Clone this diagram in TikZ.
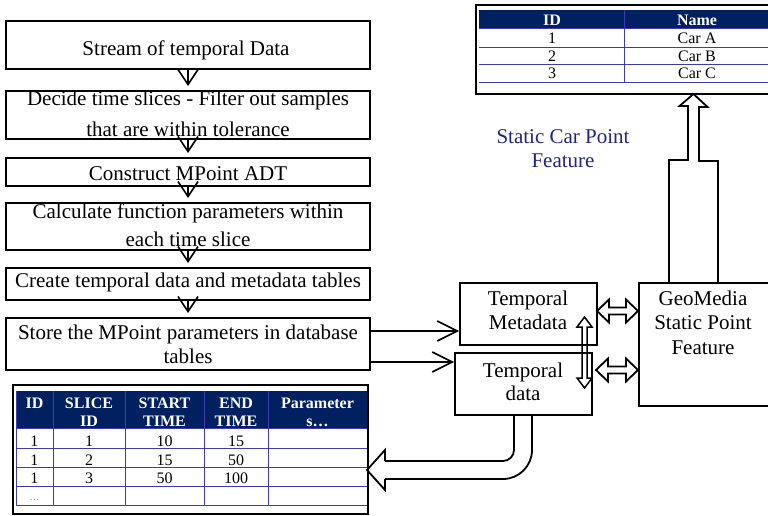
\documentclass[tikz,border=0pt]{standalone}
\usepackage{fontspec}
\setmainfont{Liberation Serif}
\usetikzlibrary{arrows.meta,calc}
\definecolor{hdrnavy}{RGB}{0,32,96}
\definecolor{gridblue}{RGB}{60,60,170}
\definecolor{labelnavy}{RGB}{35,35,130}

\tikzset{
  box/.style={draw, line width=2pt, inner sep=0pt},
  stepbox/.style={box, minimum width=364pt},
  lbl/.style={anchor=base, inner sep=0pt, font=\fontsize{21}{25}\selectfont},
  flow/.style={line width=1.6pt, -{Straight Barb[length=15pt,width=20pt]}, shorten >=4pt},
  feed/.style={line width=1.6pt, -{Straight Barb[length=20pt,width=20pt]}},
  hl/.style={line width=1.8pt, line join=miter},
  frame/.style={draw, line width=2.5pt, inner sep=0pt},
  gridln/.style={draw=gridblue, line width=1pt},
  cellt/.style={anchor=base, inner sep=0pt, font=\fontsize{16}{18}\selectfont},
  hdrt/.style={anchor=base, inner sep=0pt, text=white, font=\fontsize{16}{18}\selectfont\bfseries},
}

% hollow double-headed arrow between two points at the same height
\newcommand\hollowpair[2]{%
  \draw[hl] (#1) -- ++(12,-11.5) -- ++(0,8) -- ($(#2)+(-12,-3.5)$) -- ++(0,-8)
    -- (#2) -- ++(-12,11.5) -- ++(0,-8) -- ($(#1)+(12,3.5)$) -- ++(0,8) -- cycle;}
% thin hollow double-headed arrow between two points on one vertical
\newcommand\hollowvert[2]{%
  \draw[hl, line width=1.5pt] (#1) -- ++(7.5,10) -- ++(-5,0) -- ($(#2)+(2.5,-10)$) -- ++(5,0)
    -- (#2) -- ++(-7.5,-10) -- ++(5,0) -- ($(#1)+(-2.5,10)$) -- ++(-5,0) -- cycle;}

\begin{document}
\begin{tikzpicture}[x=1pt, y=-1pt]
\useasboundingbox (0,0) rectangle (768,516);

% ---- processing steps ----
\node[stepbox, minimum height=48pt] (s1) at (188,45) {};
\node[stepbox, minimum height=48pt] (s2) at (188,115) {};
\node[stepbox, minimum height=28pt] (s3) at (188,172) {};
\node[stepbox, minimum height=47pt] (s4) at (188,226.5) {};
\node[stepbox, minimum height=32pt] (s5) at (188,284) {};
\node[stepbox, minimum height=52pt] (s6) at (188,344) {};

\node[lbl] (t1) at (186,56) {Stream of temporal Data};
\node[lbl] (t2a) at (188,106) {Decide time slices - Filter out samples};
\node[lbl] (t2b) at (188,137) {that are within tolerance};
\node[lbl] (t3) at (188,180) {Construct MPoint ADT};
\node[lbl] (t4a) at (188,218) {Calculate function parameters within};
\node[lbl] (t4b) at (188,246) {each time slice};
\node[lbl] (t5) at (188,287) {Create temporal data and metadata tables};
\node[lbl] (t6a) at (188,339) {Store the MPoint parameters in database};
\node[lbl] (t6b) at (188,363) {tables};

\draw[flow] (s1.south) -- (s2.north);
\draw[flow] (s2.south) -- (s3.north);
\draw[flow] (s3.south) -- (s4.north);
\draw[flow] (s4.south) -- (s5.north);
\draw[flow] (s5.south) -- (s6.north);

% ---- storage boxes ----
\node[box, minimum width=137pt, minimum height=62pt] (meta) at (528.5,314) {};
\node[box, minimum width=137pt, minimum height=62pt] (tdata) at (523.5,384) {};
\node[box, minimum width=141pt, minimum height=123pt] (geo) at (709.5,344.5) {};

\node[lbl] (m1) at (528,305) {Temporal};
\node[lbl] (m2) at (528,329) {Metadata};
\node[lbl] (d1) at (523,377) {Temporal};
\node[lbl] (d2) at (523,400) {data};
\node[lbl] (g1) at (703,305) {GeoMedia};
\node[lbl] (g2) at (703,329) {Static Point};
\node[lbl] (g3) at (703,354) {Feature};

\node[lbl, text=labelnavy] (c1) at (563,143) {Static Car Point};
\node[lbl, text=labelnavy] (c2) at (563,167) {Feature};

% step 6 feeds both storage boxes
\coordinate (fa) at ([yshift=13pt]s6.east);
\coordinate (fb) at ([yshift=-18pt]s6.east);
\draw[feed] (fa) -- (fa -| meta.west);
\draw[feed] (fb) -- (fb -| tdata.west);

% links between storage boxes and the static feature
\coordinate (ha) at (597,311);
\coordinate (hb) at (ha -| geo.west);
\hollowpair{ha}{hb}
\coordinate (hc) at (596,370);
\coordinate (hd) at (hc -| geo.west);
\hollowpair{hc}{hd}
\coordinate (va) at (584.5,317);
\coordinate (vb) at (584.5,388);
\hollowvert{va}{vb}

% ---- static car table ----
\node[frame, minimum width=314pt, minimum height=89pt] (ctab) at (633,49.5) {};
\fill[hdrnavy] (479,10) rectangle (790,29);
\foreach \yy in {29,48,65,83} \draw[gridln] (479,\yy) -- (790,\yy);
\draw[gridln] (624,10) -- (624,83);
\node[hdrt] (ch1) at (552,26) {ID};
\node[hdrt] (ch2) at (697,26) {Name};
\foreach \r/\yy/\nm in {1/44/Car A,2/62/Car B,3/79/Car C}{
  \node[cellt] (ci\r) at (552,\yy) {\r};
  \node[cellt] (cn\r) at (697,\yy) {\nm};
}

% hollow arrow from the static feature up to its table
\coordinate (ub) at (693.5,283);
\coordinate (ut) at (693.5,94);
\draw[hl] ($(ub)+(-24.5,0)$) -- ++(0,-123) -- ++(19,0) -- ++(0,-54) -- ++(-8.5,0)
  -- (ut) -- ++(14,13) -- ++(-8.5,0) -- ++(0,54) -- ++(19,0) -- ++(0,123);

% ---- temporal data table ----
\node[frame, minimum width=355pt, minimum height=129pt] (ptab) at (190.5,449.5) {};
\fill[hdrnavy] (16,391) rectangle (367,428);
\foreach \yy in {428,448,467,486,505} \draw[gridln] (16,\yy) -- (367,\yy);
\foreach \xx in {16,53,125,204,268} \draw[gridln] (\xx,391) -- (\xx,505);
\node[hdrt] (h1) at (34.5,408) {ID};
\node[hdrt] (h2a) at (89,408) {SLICE};
\node[hdrt] (h2b) at (89,426) {ID};
\node[hdrt] (h3a) at (164.5,408) {START};
\node[hdrt] (h3b) at (164.5,426) {TIME};
\node[hdrt] (h4a) at (236,408) {END};
\node[hdrt] (h4b) at (236,426) {TIME};
\node[hdrt] (h5a) at (317.5,408) {Parameter};
\node[hdrt] (h5b) at (317.5,426) {s…};
\foreach \r/\yy/\s/\a/\b in {1/446/1/10/15,2/465/2/15/50,3/483/3/50/100}{
  \node[cellt] (r\r a) at (34.5,\yy) {1};
  \node[cellt] (r\r b) at (89,\yy) {\s};
  \node[cellt] (r\r c) at (164.5,\yy) {\a};
  \node[cellt] (r\r d) at (236,\yy) {\b};
}
\node[cellt, text=gray, font=\fontsize{10}{12}\selectfont] (r4a) at (34.5,500) {…};

% hollow arrow from temporal data down into its table
\coordinate (uin) at (514,415);
\coordinate (uout) at (532,415);
\coordinate (utip) at (367,470);
\draw[hl, rounded corners=11pt] (uin) |- ($(utip)+(18,-9)$);
\draw[hl, rounded corners=29pt] (uout) |- ($(utip)+(18,9)$);
\draw[hl] ($(utip)+(18,-9)$) -- ++(0,-11) -- (utip) -- ++(18,20) -- ++(0,-11);
\end{tikzpicture}
\end{document}
